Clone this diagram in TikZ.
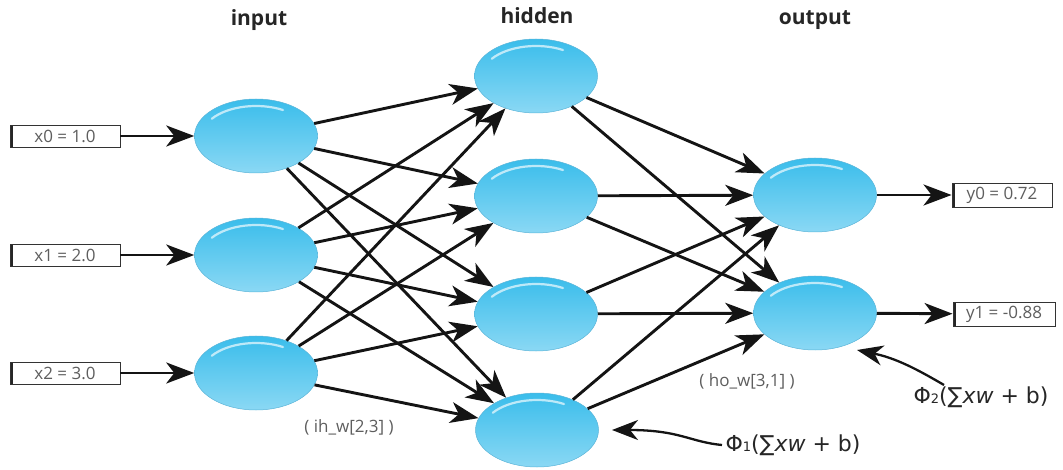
\documentclass[tikz,border=0pt]{standalone}
\usepackage{fontspec}
\setmainfont{DejaVu Sans}
\newfontfamily\headfont{Open Sans}
\newfontfamily\boxfont{Open Sans}
\usetikzlibrary{arrows.meta,shapes.geometric,calc}

\definecolor{nTop}{HTML}{3ABDEB}
\definecolor{nMid}{HTML}{16AADE}
\definecolor{nBot}{HTML}{8AD8F4}
\definecolor{nEdge}{HTML}{5AB4D8}
\definecolor{wire}{HTML}{141414}
\definecolor{boxtext}{HTML}{5E5E5E}

\tikzset{
  neuron/.style={ellipse, minimum width=123pt, minimum height=74pt, inner sep=0pt,
    top color=nTop, middle color=nMid, bottom color=nBot, draw=nEdge, line width=0.5pt,
    path picture={
      \draw[white, opacity=0.65, line width=2.2pt, line cap=round]
        (path picture bounding box.center) ++(215:54 and 30) arc[start angle=215, end angle=300, x radius=54, y radius=30];
    }},
  layerlabel/.style={font=\headfont\bfseries\fontsize{21}{21}\selectfont, text=black!85},
  valbox/.style={draw=black!80, line width=0.9pt, fill=white, minimum width=110pt,
    minimum height=22pt, inner sep=0pt, text=boxtext,
    font=\boxfont\fontsize{17}{17}\selectfont,
    path picture={\fill[black!85] (path picture bounding box.south west)
      rectangle ([xshift=3pt]path picture bounding box.north west);}},
  link/.style={draw=wire, line width=2.9pt, -{Stealth[length=28pt, width=21pt, inset=8pt]}},
  note/.style={text=boxtext, font=\boxfont\fontsize{17}{17}\selectfont},
  formula/.style={text=black!85, font=\fontsize{22}{22}\selectfont},
  pointer/.style={draw=wire, line width=2.3pt, -{Stealth[length=26pt, width=20pt, inset=8pt]}}
}

\begin{document}
\begin{tikzpicture}[x=1pt, y=-1pt]
\useasboundingbox (0,0) rectangle (1063,470);

% layer titles
\node[layerlabel] (tin)  at (259,20) {input};
\node[layerlabel] (thid) at (537,16) {hidden};
\node[layerlabel] (tout) at (815,20) {output};

% neurons
\node[neuron] (i0) at (256,136) {};
\node[neuron] (i1) at (256,255) {};
\node[neuron] (i2) at (256,373) {};
\node[neuron] (h0) at (536,76) {};
\node[neuron] (h1) at (536,196) {};
\node[neuron] (h2) at (536,314) {};
\node[neuron] (h3) at (537,430) {};
\node[neuron] (o0) at (815,195) {};
\node[neuron] (o1) at (815,313) {};

% input and output values
\node[valbox] (x0) at (65,136) {x0 = 1.0};
\node[valbox] (x1) at (65,255) {x1 = 2.0};
\node[valbox] (x2) at (65,373) {x2 = 3.0};
\node[valbox, minimum width=100pt, minimum height=24pt] (y0) at (1002,195) {y0 = 0.72};
\node[valbox, minimum width=102pt, minimum height=24pt] (y1) at (1004,314) {y1 = -0.88};

% weights
\foreach \i in {0,1,2} {
  \draw[link] (x\i) -- (i\i);
  \foreach \j in {0,1,2,3} {
    \draw[link] (i\i) -- (h\j);
  }
}
\foreach \j in {0,1,2,3} {
  \foreach \k in {0,1} {
    \draw[link] (h\j) -- (o\k);
  }
}
\draw[link] (o0) -- (y0);
\draw[link] (o1) -- (y1);

% weight labels
\node[note] (wih) at (349,427) {( ih\_w[2,3] )};
\node[note] (who) at (747,381) {( ho\_w[3,1] )};

% activation notes
\node[formula, anchor=west] (phi1) at (722,445)
  {Φ{\fontsize{13}{13}\selectfont 1}(∑\textit{xw} + b)};
\node[formula, anchor=west] (phi2) at (910,397)
  {Φ{\fontsize{13}{13}\selectfont 2}(∑\textit{xw} + b)};

\coordinate (t1) at ($(h3)+(75,0)$);
\coordinate (t2) at ($(o1)+(42,37)$);
\draw[pointer] (phi1.west) .. controls (690,442) and (680,430) .. (t1);
\draw[pointer] ([xshift=34pt,yshift=-2pt]phi2.north west) .. controls (915,368) and (895,358) .. (t2);
\end{tikzpicture}
\end{document}
